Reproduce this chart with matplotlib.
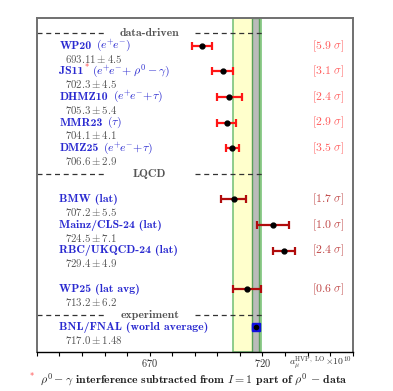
import numpy as np
import matplotlib
matplotlib.use('Agg')
import matplotlib.pyplot as plt

plt.rcParams['mathtext.fontset'] = 'cm'
plt.rcParams['font.family'] = ['cmr10', 'DejaVu Serif']
plt.rcParams['axes.unicode_minus'] = False

# data
names_bold = ['WP20', 'JS11', 'DHMZ10', 'MMR23', 'DMZ25', 'BMW (lat)',
              'Mainz/CLS-24 (lat)', 'RBC/UKQCD-24 (lat)', 'WP25 (lat avg)',
              'BNL/FNAL (world average)']
names_math = [r'$(e^{+}\!e^{-})$', r'$(e^{+}\!e^{-}\!+\rho^0-\gamma)$',
              r'$(e^{+}\!e^{-}\!+\!\tau)$', r'$(\tau)$',
              r'$(e^{+}\!e^{-}\!+\!\tau)$', '', '', '', '', '']
means = [693.11, 702.3, 705.3, 704.1, 706.6, 707.2, 724.5, 729.4, 713.2, 717.0]
errs = [4.5, 4.5, 5.4, 4.1, 2.9, 5.5, 7.1, 4.9, 6.2, 1.48]
value_txt = ['693.11', '702.3', '705.3', '704.1', '706.6', '707.2', '724.5',
             '729.4', '713.2', '717.0']
err_txt = ['4.5', '4.5', '5.4', '4.1', '2.9', '5.5', '7.1', '4.9', '6.2', '1.48']
sigmas = ['5.9', '3.1', '2.4', '2.9', '3.5', '1.7', '1.0', '2.4', '0.6']
groups = ['data-driven', 'LQCD', 'experiment']

# layout (row positions, top = 0)
rows = [1.1, 2.1, 3.1, 4.1, 5.1, 7.1, 8.1, 9.1, 10.6, 12.1]
sep_rows = [0.6, 6.1, 11.6]
kind = ['dd'] * 5 + ['lat'] * 4 + ['exp']

blue = '#2a2ad0'
grey = '#555555'
col_bar = {'dd': '#ff1515', 'lat': '#b00c0c'}
col_sig = {'dd': '#ff5c5c', 'lat': '#c04848'}

fig = plt.figure(figsize=(3.93, 3.91), dpi=100)
ax = fig.add_axes([0.094, 0.1005, 0.8035, 0.8542])
ax.set_xlim(620, 760)
ax.set_ylim(13.05, 0)

# bands
wp25_m, wp25_e = means[8], errs[8]
exp_m, exp_e = means[9], errs[9]
ax.axvspan(wp25_m - wp25_e, wp25_m + wp25_e, facecolor='#ffffcc',
           edgecolor='#7cc47c', lw=1.2, zorder=0)
ax.axvspan(exp_m - exp_e, exp_m + exp_e, facecolor='#bbbbbb',
           edgecolor='#5aa05a', lw=1.0, zorder=0.5)

# separators
for y, g in zip(sep_rows, groups):
    ax.plot([620, 650], [y, y], ls=(0, (4, 3)), color='#333333', lw=0.9)
    ax.plot([690, 720.5], [y, y], ls=(0, (4, 3)), color='#333333', lw=0.9)
    ax.text(670, y, g, ha='center', va='center', fontsize=8.5,
            family='cmb10', color=grey)

fig.canvas.draw()
r = fig.canvas.get_renderer()
inv = ax.transData.inverted()

for i in range(len(means)):
    y = rows[i]
    k = kind[i]
    t = ax.text(630, y, names_bold[i], ha='left', va='center', fontsize=8.5,
                color=blue, family='cmb10')
    if names_math[i]:
        bb = t.get_window_extent(r)
        x1 = inv.transform((bb.x1, 0))[0]
        if i == 1:
            ax.text(x1 + 0.3, y - 0.15, '*', color='#ff3030', fontsize=6,
                    ha='left', va='center')
            x1 += 1.6
        ax.text(x1 + 2.0, y, names_math[i], ha='left', va='center',
                fontsize=8.5, color=blue)
    ax.text(632.5, y + 0.5, r'$%s \pm %s$' % (value_txt[i], err_txt[i]),
            ha='left', va='center', fontsize=7.8, color=grey)
    if k == 'exp':
        ax.errorbar(means[i], y, xerr=errs[i], fmt='s', color='#1010e0',
                    ms=5.5, elinewidth=1.5, capsize=2, zorder=3)
        ax.plot(means[i], y, 'o', color='black', ms=3, zorder=4)
    else:
        ax.errorbar(means[i], y, xerr=errs[i], fmt='o', color=col_bar[k],
                    mfc='black', mec='black', ms=3.5, elinewidth=1.6,
                    capsize=3, capthick=1.6, zorder=3)
        ax.text(756.5, y, r'$[%s\ \sigma]$' % sigmas[i], ha='right',
                va='center', fontsize=8.5, color=col_sig[k])

# axes styling
for s in ['top', 'left', 'right']:
    ax.spines[s].set_color('#707070')
    ax.spines[s].set_linewidth(1.4)
ax.spines['bottom'].set_color('black')
ax.spines['bottom'].set_linewidth(1.0)
ax.set_yticks([])
ax.set_xticks(np.arange(620, 761, 10))
ax.set_xticklabels([])
ax.tick_params(axis='x', direction='out', length=3, width=0.8)
for v in (670, 720):
    ax.text(v, -0.034, r'$%d$' % v, transform=ax.get_xaxis_transform(),
            ha='center', va='center', fontsize=7.5, color='#333333')

ax.text(0.797, -0.032, r'$a_\mu^{\rm HVP,\ LO}\!\times\!\mathbf{10}^{10}$',
        transform=ax.transAxes, ha='left', va='center', fontsize=7.0,
        color='#333333')

fig.text(0.074, 0.036, '*', color='#ff3030', fontsize=6, ha='left',
         va='center')
fig.text(0.102, 0.030,
         r'$\rho^0-\gamma$ $\mathbf{interference\ subtracted\ from}$ $I=1$'
         r' $\mathbf{part\ of}$ $\rho^0$ $\mathbf{-\ data}$',
         fontsize=8.5, ha='left', va='center', color='#222222')

fig.savefig('out.png', dpi=100)
